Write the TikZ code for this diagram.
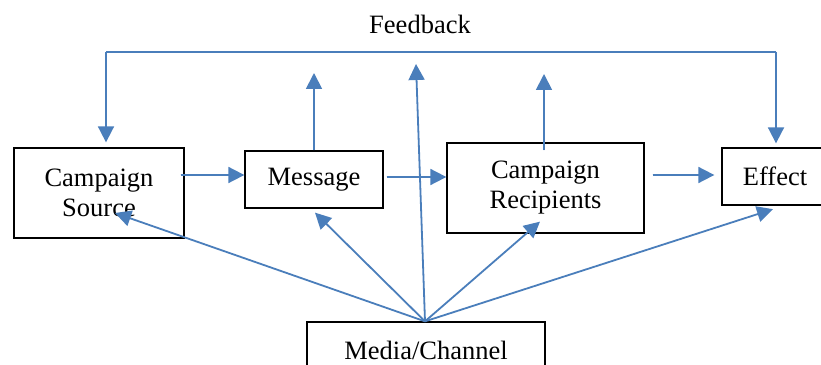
\documentclass[tikz,border=0pt]{standalone}
\usepackage{fontspec}
\setmainfont{Liberation Serif}
\usetikzlibrary{arrows.meta}
\definecolor{flowblue}{RGB}{74,126,187}
\tikzstyle{box} = [rectangle, draw=black, line width=1.3pt, align=center, inner sep=0pt]
\tikzstyle{line} = [line width=1.8pt, draw=flowblue]
\tikzstyle{arrow} = [line width=1.8pt, draw=flowblue, fill=flowblue, -{Triangle[length=16pt,width=16pt]}]

\begin{document}
\begin{tikzpicture}[x=1pt, y=1pt, font=\fontsize{26.5}{30}\selectfont]
  \useasboundingbox (0,0) rectangle (821,364);

  % the five boxes
  \node[box, minimum width=170pt, minimum height=90pt] (src) at (99,171) {Campaign\\Source};
  \node[box, minimum width=138pt, minimum height=57pt] (msg) at (314,184.5) {Message};
  \node[box, minimum width=197pt, minimum height=90pt] (rcp) at (545.5,176) {Campaign\\Recipients};
  \node[box, minimum width=106pt, minimum height=57pt] (eff) at (775,187.5) {Effect};
  \node[box, minimum width=238pt, minimum height=56pt] (med) at (426,14) {Media/Channel};

  \node (fb) at (420,340) {Feedback};

  % feedback loop over the top
  \coordinate (fbL) at (106,312);
  \coordinate (fbR) at (776,312);
  \draw[line] (fbL) -- (fbR);
  \draw[arrow] (fbL) -- ([yshift=5pt]fbL |- src.north);
  \draw[arrow] (fbR) -- ([yshift=4pt]fbR |- eff.north);

  % main chain
  \draw[arrow] ([shift={(-4,18)}]src.east) -- ([yshift=4.5pt]msg.west);
  \draw[arrow] ([shift={(3,2.5)}]msg.east) -- ([yshift=11pt]rcp.west);
  \draw[arrow] ([shift={(8,13)}]rcp.east) -- ([shift={(-7,1.5)}]eff.west);

  % loose arrows pointing up
  \coordinate (upM) at (314,291);
  \coordinate (upR) at (544,290);
  \coordinate (upC) at (416,300);
  \draw[arrow] (msg.north) -- (upM);
  \draw[arrow] ([yshift=-8pt]rcp.north -| upR) -- (upR);
  \draw[arrow] ([xshift=-1pt]med.north) -- (upC);

  % media fans out to every stage
  \draw[arrow] ([xshift=-1pt]med.north) -- ([shift={(16,-20)}]src.center);
  \draw[arrow] ([xshift=-1pt]med.north) -- ([shift={(1,-4)}]msg.south);
  \draw[arrow] ([xshift=-1pt]med.north) -- ([shift={(-5.5,12)}]rcp.south);
  \draw[arrow] ([xshift=-1pt]med.north) -- ([shift={(-2,-3.5)}]eff.south);
\end{tikzpicture}
\end{document}
